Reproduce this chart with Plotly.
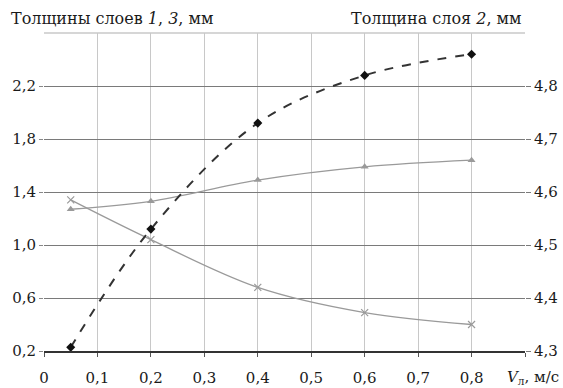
import plotly.graph_objects as go

# Data
v = [0.05, 0.2, 0.4, 0.6, 0.8]
layer1 = [1.27, 1.33, 1.49, 1.59, 1.64]      # triangles, left axis
layer3 = [1.34, 1.04, 0.68, 0.49, 0.40]      # crosses, left axis
layer2 = [4.307, 4.53, 4.73, 4.82, 4.86]     # diamonds dashed, right axis

x_ticks = [0, 0.1, 0.2, 0.3, 0.4, 0.5, 0.6, 0.7, 0.8, 0.9]
x_text = ["0", "0,1", "0,2", "0,3", "0,4", "0,5", "0,6", "0,7", "0,8", " "]
yl_ticks = [0.2, 0.6, 1.0, 1.4, 1.8, 2.2]
yl_text = ["0,2", "0,6", "1,0", "1,4", "1,8", "2,2"]
yr_ticks = [4.3, 4.4, 4.5, 4.6, 4.7, 4.8]
yr_text = ["4,3", "4,4", "4,5", "4,6", "4,7", "4,8"]

FONT = "DejaVu Serif"
fig = go.Figure()

fig.add_trace(go.Scatter(
    x=v, y=layer1, mode="lines+markers", line=dict(color="#9a9a9a", width=1.3, shape="spline"),
    marker=dict(symbol="triangle-up", size=7, color="#9a9a9a"), yaxis="y", showlegend=False))
fig.add_trace(go.Scatter(
    x=v, y=layer3, mode="lines+markers", line=dict(color="#9a9a9a", width=1.3, shape="spline"),
    marker=dict(symbol="x-thin", size=7, line=dict(color="#9a9a9a", width=1.2)), yaxis="y", showlegend=False))
fig.add_trace(go.Scatter(
    x=v, y=layer2, mode="lines+markers", line=dict(color="#333333", width=2, dash="dash", shape="spline"),
    marker=dict(symbol="diamond", size=7, color="#111111"), yaxis="y2", showlegend=False))

fig.update_layout(
    width=563, height=388,
    margin=dict(l=44, r=38, t=33, b=37, autoexpand=False),
    paper_bgcolor="white", plot_bgcolor="white",
    font=dict(family=FONT, size=15, color="#1a1a1a"),
    xaxis=dict(range=[0, 0.9], tickmode="array", tickvals=x_ticks, ticktext=x_text,
               showgrid=True, gridcolor="#c8c8c8", gridwidth=1.3, zeroline=False,
               showline=True, linecolor="#333333", linewidth=2, automargin=False,
               ticks="outside", ticklen=4, tickcolor="#555555", ticklabelstandoff=8),
    yaxis=dict(range=[0.2, 2.6], tickmode="array", tickvals=yl_ticks, ticktext=yl_text,
               showgrid=True, gridcolor="#7a7a7a", gridwidth=1.2, zeroline=False, automargin=False,
               ticks="outside", ticklen=4, tickcolor="#888888"),
    yaxis2=dict(range=[4.3, 4.9], tickmode="array", tickvals=yr_ticks, ticktext=yr_text,
                overlaying="y", side="right", showgrid=False, zeroline=False, automargin=False,
                ticks="outside", ticklen=5, tickcolor="#7a7a7a"),
)

# top border (light)
fig.add_shape(type="line", xref="paper", yref="paper", x0=0, x1=1, y0=1, y1=1,
              line=dict(color="#c8c8c8", width=1.3), layer="below")

fig.add_annotation(text="Толщины слоев <i>1</i>, <i>3</i>, мм", xref="paper", yref="paper",
                   x=-0.073, y=1.047, xanchor="left", yanchor="middle", showarrow=False,
                   font=dict(size=16))
fig.add_annotation(text="Толщина слоя <i>2</i>, мм", xref="paper", yref="paper",
                   x=0.996, y=1.047, xanchor="right", yanchor="middle", showarrow=False,
                   font=dict(size=16))
fig.add_annotation(text="<i>V</i><sub>л</sub>, м/с", xref="paper", yref="paper",
                   x=0.958, y=-0.082, xanchor="left", yanchor="middle", showarrow=False)

fig.write_html("out.html")
